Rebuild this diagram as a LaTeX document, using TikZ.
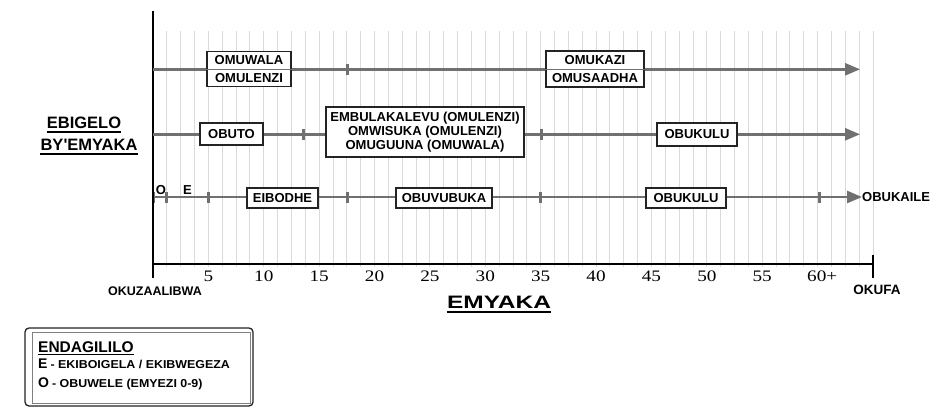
\documentclass[tikz,border=0pt]{standalone}
\usepackage{fontspec}
\usepackage{graphicx}
\newfontfamily\lsans{Liberation Sans}
\newfontfamily\lserif{Liberation Serif}
\usetikzlibrary{arrows.meta}
\definecolor{rowgray}{RGB}{112,112,112}
\definecolor{gridgray}{RGB}{218,218,218}
\definecolor{boxline}{RGB}{35,35,35}
\begin{document}
\begin{tikzpicture}[x=1pt,y=-1pt,
  lbl/.style={font=\lsans\bfseries\fontsize{13}{15}\selectfont, inner sep=0pt},
  agebox/.style={draw=boxline, line width=1.2pt, fill=white, font=\lsans\bfseries\fontsize{13}{15.5}\selectfont, align=center, inner sep=0pt, minimum height=20pt},
  rowline/.style={draw=rowgray, line width=2.6pt},
  rowarrow/.style={rowline, -{Triangle[length=15pt,width=12pt]}},
  agetick/.style={draw=rowgray, line width=3pt},
  divider/.style={draw=rowgray, line width=0.8pt},
  gridline/.style={draw=gridgray, line width=0.9pt},
  axisline/.style={draw=black, line width=1.8pt},
  num/.style={font=\lserif\fontsize{16}{18}\selectfont, inner sep=0pt, anchor=base},
  title/.style={font=\lsans\bfseries\fontsize{16.5}{18}\selectfont, inner sep=0pt, anchor=base},
  uline/.style={draw=black, line width=1.7pt},
]
\useasboundingbox (0,0) rectangle (932,408);
\fill[white] (0,0) rectangle (932,408);

% grid
\foreach \k in {1,...,52} \draw[gridline] ({153+13.846*\k},31) -- ({153+13.846*\k},267);

% axes
\coordinate (yt) at (153,11);
\coordinate (yb) at (153,278);
\coordinate (xl) at (153,264);
\coordinate (xr) at (873,264);
\coordinate (et) at (873,255);
\coordinate (eb) at (873,278);
\draw[axisline] (yt) -- (yb);
\draw[axisline] (xl) -- (xr);
\draw[axisline] (et) -- (eb);

% tick numbers
\foreach \y in {5,10,...,55} \node[num] (n\y) at ({153+11.0769*\y},281.5) {\scalebox{1.2}[1]{\y}};
\node[num, anchor=base west] (n60) at (807,281.5) {\scalebox{1.2}[1]{60+}};

% row lines
\coordinate (r1s) at (153,69.3);
\coordinate (r1e) at (860,69.3);
\coordinate (r2s) at (153,134.3);
\coordinate (r2e) at (860,134.3);
\coordinate (r3s) at (153,197);
\node[lbl, anchor=west] (obukaile) at (862,197) {OBUKAILE};
\draw[rowarrow] (r1s) -- (r1e);
\draw[rowarrow] (r2s) -- (r2e);
\draw[rowarrow] (r3s) -- (obukaile.west);

% ticks on rows
\foreach \x in {347} \draw[agetick] (\x,63.8) -- (\x,74.8);
\foreach \x in {303,541} \draw[agetick] (\x,128.8) -- (\x,139.8);
\foreach \x in {153,166,208,347,540,819} \draw[agetick] (\x,191.5) -- (\x,202.5);
\draw[axisline] (153,185) -- (153,210);

% row 1 boxes
\node[agebox, minimum width=84pt, minimum height=35pt] (b1a) at (249,69) {OMUWALA\\[2pt]OMULENZI};
\draw[divider] (b1a.west) -- (b1a.east);
\node[agebox, minimum width=98pt, minimum height=36pt] (b1b) at (595,69) {OMUKAZI\\[2pt]OMUSAADHA};
\draw[divider] (b1b.west) -- (b1b.east);

% row 2 boxes
\node[agebox, minimum width=63pt, minimum height=22pt] (b2a) at (231.5,134) {OBUTO};
\node[agebox, minimum width=198pt, minimum height=50pt, font=\lsans\bfseries\fontsize{13}{14.3}\selectfont] (b2b) at (425,132) {EMBULAKALEVU (OMULENZI)\\OMWISUKA (OMULENZI)\\OMUGUUNA (OMUWALA)};
\node[agebox, minimum width=80pt, minimum height=23pt] (b2c) at (697,134.5) {OBUKULU};

% row 3 boxes
\node[agebox, minimum width=71pt] (b3a) at (282.5,198) {EIBODHE};
\node[agebox, minimum width=96pt] (b3b) at (444,198) {OBUVUBUKA};
\node[agebox, minimum width=80pt] (b3c) at (686,198) {OBUKULU};

% O and E markers
\node[lbl, anchor=base] (om) at (161,194) {O};
\node[lbl, anchor=base] (em) at (187.5,194) {E};

% axis labels
\node[lbl, anchor=base, font=\lsans\bfseries\fontsize{12.5}{14}\selectfont] (birth) at (155,295) {OKUZAALIBWA};
\node[lbl, anchor=base, font=\lsans\bfseries\fontsize{13.5}{15}\selectfont] (death) at (877,294) {OKUFA};
\node[title, font=\lsans\bfseries\fontsize{18}{20}\selectfont] (emyaka) at (499,308) {\scalebox{1.36}[1]{EMYAKA}};
\draw[uline, line width=2pt] ([yshift=-4pt]emyaka.base west) -- ([yshift=-4pt]emyaka.base east);

% y-axis title
\node[title] (ebig) at (84,128) {EBIGELO};
\draw[uline] ([yshift=-4pt]ebig.base west) -- ([yshift=-4pt]ebig.base east);
\node[title] (byem) at (89,150) {BY'EMYAKA};
\draw[uline] ([yshift=-4pt]byem.base west) -- ([yshift=-4pt]byem.base east);

% legend
\draw[draw=boxline, line width=1.3pt, rounded corners=4pt] (25,328) rectangle (253,406);
\draw[draw=gray, line width=0.6pt] (32,332) rectangle (250,403);
\node[lbl, anchor=base west, font=\lsans\bfseries\fontsize{15.5}{17}\selectfont] (leg) at (38,352) {ENDAGILILO};
\draw[uline, line width=1.5pt] ([yshift=-2.5pt]leg.base west) -- ([yshift=-2.5pt]leg.base east);
\node[lbl, anchor=base west] (legE) at (38,368) {\fontsize{14}{16}\selectfont E\hspace{3pt}\fontsize{11.5}{13}\selectfont\scalebox{1.08}[1]{- EKIBOIGELA / EKIBWEGEZA}};
\node[lbl, anchor=base west] (legO) at (38,387) {\fontsize{14}{16}\selectfont O\hspace{3pt}\fontsize{11.5}{13}\selectfont\scalebox{1.08}[1]{- OBUWELE (EMYEZI 0-9)}};
\end{tikzpicture}
\end{document}
